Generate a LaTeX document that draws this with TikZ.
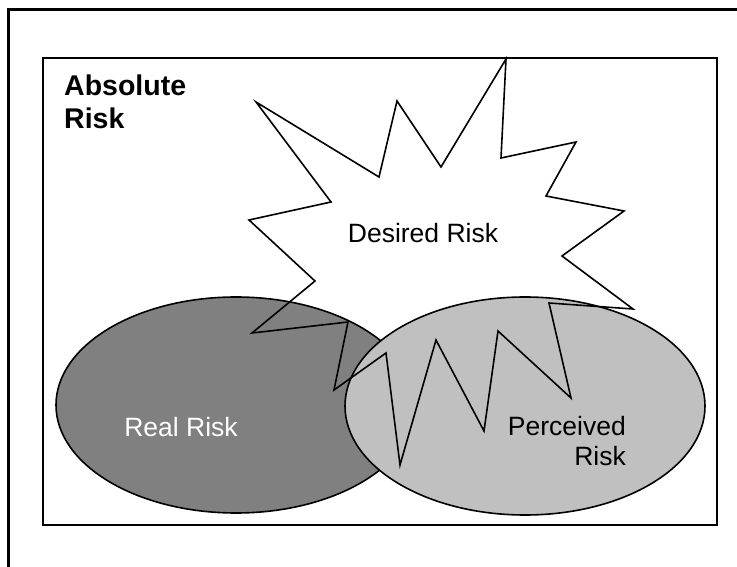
\documentclass[tikz,border=0pt]{standalone}
\usepackage{fontspec}
\setmainfont{Liberation Sans}
\usetikzlibrary{shapes.geometric}
\definecolor{realgray}{RGB}{128,128,128}
\definecolor{percgray}{RGB}{192,192,192}
\tikzset{
  blob/.style={ellipse, draw=black, line width=1.6pt, inner sep=0pt, minimum width=360pt},
  lbl/.style={inner sep=0pt, font=\fontsize{26.5}{30}\selectfont},
}
\begin{document}
\begin{tikzpicture}[x=1pt,y=-1pt]
\useasboundingbox (0,0) rectangle (737,567);
\fill[white] (0,0) rectangle (737,567);
% outer frame (cropped)
\draw[line width=3pt] (8,567) -- (8,10) -- (737,10);
% inner frame
\draw[line width=2pt] (43,58) rectangle (717,525);
% ellipses
\node[blob, fill=realgray, minimum height=216pt] (real) at (236,405) {};
\node[blob, fill=percgray, minimum height=218pt] (perc) at (525,406) {};
% star (desired risk)
\draw[line width=1.6pt, line join=miter]
  (506,59) -- (501,158) -- (576,142) -- (546,196) -- (624,211) -- (562,256)
  -- (633,309) -- (549,303) -- (571,398) -- (498,331) -- (484,431) -- (436,340)
  -- (400,465) -- (386,353) -- (334,390) -- (348,322) -- (252,333) -- (315,281)
  -- (249,220) -- (331,202) -- (256,102) -- (379,177) -- (397,101) -- (441,167)
  -- cycle;
% labels
\node[inner sep=0pt, anchor=base west, align=left, font=\fontsize{28.5}{33}\selectfont\bfseries] (abs) at (64,129) {Absolute\\Risk};
\node[lbl, anchor=base] (des) at (423,243) {Desired Risk};
\node[lbl, anchor=base, text=white] (reallbl) at (181,436) {Real Risk};
\node[lbl, anchor=base east, align=right] (perclbl) at (626,465) {Perceived\\Risk};
\end{tikzpicture}
\end{document}
